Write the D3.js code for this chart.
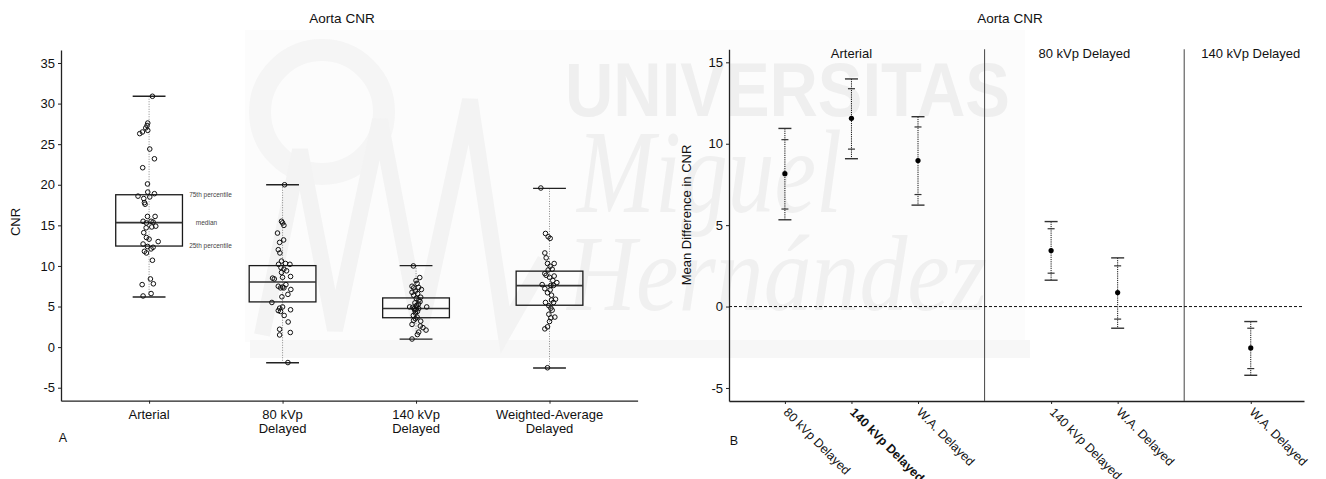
<!DOCTYPE html>
<html>
<head>
<meta charset="utf-8">
<script src="https://cdn.jsdelivr.net/npm/d3@7"></script>
<style>
  body { margin: 0; background: #fff; }
  svg text { font-family: "Liberation Sans", Arial, sans-serif; fill: #111; }
</style>
</head>
<body>
<svg id="chart" width="1326" height="479"></svg>
<script>
/* Aorta CNR: boxplot (A) + mean differences (B) */

// --- panel A data: CNR per phase, [value, jitter]
var phases = ["Arterial", "80 kVp|Delayed", "140 kVp|Delayed", "Weighted-Average|Delayed"];

var arterialCNR = [30.9, 27.6, 27.3, 27.0, 26.7, 26.5, 26.3, 24.4, 23.2, 22.1, 20.1, 19.1, 18.9, 18.6, 18.5, 18.3,
    17.8, 17.6, 16.1, 16.1, 15.5, 15.3, 15.5, 15.4, 14.9, 14.8, 14.7, 14.1, 13.5, 13.3, 13.0, 12.7, 12.4, 12.3,
    12.1, 11.8, 11.6, 10.7, 8.4, 7.7, 7.8, 6.6, 6.3];
var arterialJit = [0.025, -0.01, -0.015, -0.025, -0.01, -0.05, -0.07, 0.005, 0.04, -0.048, -0.012, -0.01, 0.04, -0.083,
    0.005, -0.04, -0.035, -0.03, -0.012, 0.045, -0.045, -0.02, 0.015, 0.03, 0.05, 0.02, -0.022, -0.04, -0.02, 0,
    0.068, -0.045, -0.012, 0.03, 0.015, -0.035, -0.02, 0.025, 0.01, -0.052, 0.032, 0.015, -0.045];

var kv80CNR = [20.0, 15.5, 15.3, 15.0, 14.05, 13.2, 12.9, 12.0, 11.6, 10.6, 10.2, 10.3, 10.2, 9.8, 9.6, 9.4, 9.2,
    8.7, 8.6, 8.5, 8.4, 7.7, 7.5, 7.4, 7.3, 7.3, 7.1, 6.5, 6.2, 5.5, 4.8, 4.95, 4.6, 4.5, 4.4, 3.9, 3.1, 2.2, 1.8,
    1.5, -1.9];
var kv80Jit = [0.015, -0.008, 0, 0.01, -0.038, 0.008, -0.022, -0.032, -0.02, -0.008, -0.03, 0.022, 0.055, -0.012,
    0.01, 0.03, -0.008, 0.06, 0, -0.075, -0.062, 0.025, -0.032, 0, -0.015, 0.01, 0.062, 0.04, -0.005, -0.08,
    -0.022, 0, 0.06, -0.032, -0.015, 0.012, 0.042, -0.022, 0.058, -0.022, 0.04];

var kv140CNR = [10.0, 8.57, 8.2, 7.85, 7.5, 7.3, 7.35, 7.1, 6.9, 6.75, 6.6, 6.4, 6.15, 6.0, 5.8, 5.6, 5.45, 5.3,
    5.15, 4.95, 4.9, 4.95, 4.95, 4.75, 4.75, 4.65, 4.55, 4.4, 4.2, 3.9, 3.7, 3.5, 3.3, 3.2, 2.8, 2.6, 2.4, 2.1,
    1.85, 1.55, 1.0];
var kv140Jit = [-0.02, 0.028, 0, 0.008, -0.03, -0.018, 0.02, 0.04, -0.005, -0.03, 0.012, -0.018, 0.035, 0.002,
    0.022, 0.03, -0.008, 0.018, 0.005, -0.048, -0.025, 0.005, 0.08, 0.02, -0.012, 0, -0.01, 0.01, -0.005, -0.02,
    0.008, -0.005, -0.018, 0.035, -0.03, 0.032, 0.052, 0.075, 0.02, 0.01, -0.03];

var waCNR = [19.6, 14.0, 13.6, 13.4, 11.6, 11.0, 10.3, 10.3, 9.96, 9.6, 9.5, 9.06, 8.85, 8.6, 8.76, 8.2, 7.95,
    7.7, 7.6, 7.6, 7.2, 7.05, 6.7, 6.4, 5.9, 5.8, 5.5, 5.5, 5.1, 4.8, 4.55, 4.05, 3.7, 3.6, 3.15, 2.5, 2.25, -2.54];
var waJit = [-0.065, -0.03, -0.01, 0.005, -0.035, -0.025, -0.015, 0.035, 0.005, 0.02, -0.01, -0.035, -0.025, 0,
    0.035, 0.025, 0.055, -0.055, 0.01, 0.03, -0.035, 0.005, -0.015, 0.015, 0.045, 0.015, -0.03, 0.03, -0.005,
    0.01, 0.02, -0.005, 0.04, 0.01, 0, -0.015, -0.035, -0.015];

// box statistics as drawn
var whiskLo = [6.18, -1.93, 0.98, -2.58];
var boxQ1 = [12.45, 5.57, 3.62, 5.16];
var boxMed = [15.33, 8.03, 4.75, 7.58];
var boxQ3 = [18.77, 10.04, 6.06, 9.36];
var whiskHi = [30.9, 20.0, 10.04, 19.55];

var yTicksA = [-5, 0, 5, 10, 15, 20, 25, 30, 35];

// --- panel B data: mean difference in CNR with two intervals
var refGroups = ["Arterial", "80 kVp Delayed", "140 kVp Delayed"];
var compGroup = [0, 0, 0, 1, 1, 2];
var compLabels = ["80 kVp Delayed", "140 kVp Delayed", "W.A. Delayed", "140 kVp Delayed", "W.A. Delayed", "W.A. Delayed"];
var meanDiff = [8.16, 11.56, 8.97, 3.44, 0.86, -2.54];
var innerLo = [5.99, 9.67, 6.88, 2.05, -0.77, -3.81];
var innerHi = [10.25, 13.38, 11.03, 4.78, 2.50, -1.33];
var outerLo = [5.33, 9.08, 6.23, 1.62, -1.33, -4.22];
var outerHi = [10.94, 13.98, 11.66, 5.22, 2.99, -0.92];
var yTicksB = [-5, 0, 5, 10, 15];

var svg = d3.select("#chart");

// ---------- watermark (faint, behind everything)
var wm = svg.append("g").attr("class", "wm");
wm.append("rect").attr("x", 245).attr("y", 30).attr("width", 780).attr("height", 312).style("fill", "#fcfcfc");
wm.append("rect").attr("x", 250).attr("y", 340).attr("width", 780).attr("height", 18).style("fill", "#f7f7f7");
wm.append("circle").attr("cx", 322).attr("cy", 112).attr("r", 62)
    .style("fill", "none").style("stroke", "#f5f5f5").style("stroke-width", 22);
wm.append("path").attr("d", "M262,335 L300,150 L335,330 L380,120 L420,330 L470,100 L505,330 L545,260")
    .style("fill", "none").style("stroke", "#f3f3f3").style("stroke-width", 16);
wm.append("text").attr("x", 565).attr("y", 116).text("UNIVERSITAS")
    .attr("textLength", 445).attr("lengthAdjust", "spacingAndGlyphs")
    .style("font-family", "'Liberation Sans Narrow', 'Liberation Sans', sans-serif")
    .style("font-weight", "bold").style("font-size", "76px").style("fill", "#efefef");
wm.append("text").attr("x", 577).attr("y", 212).text("Miguel")
    .attr("textLength", 265).attr("lengthAdjust", "spacingAndGlyphs")
    .style("font-family", "'Liberation Serif', serif").style("font-style", "italic")
    .style("font-size", "118px").style("fill", "#f0f0f0");
wm.append("text").attr("x", 567).attr("y", 310).text("Hernández")
    .attr("textLength", 420).attr("lengthAdjust", "spacingAndGlyphs")
    .style("font-family", "'Liberation Serif', serif").style("font-style", "italic")
    .style("font-size", "108px").style("fill", "#f0f0f0");

// ---------- panel A
var xA = d3.scaleLinear().domain([0.34, 4.66]).range([61, 637.6]);
var yA = d3.scaleLinear().domain([-6.6, 36.6]).range([400.7, 50]);

var gA = svg.append("g");

gA.append("g").attr("transform", "translate(61,0)")
    .call(d3.axisLeft(yA).tickValues(yTicksA).tickSize(3).tickSizeOuter(0).tickPadding(3)
        .tickFormat(function(d) { return String(d); }))
    .call(function(g) { g.selectAll("text").style("font-size", "13px"); });

gA.append("g").attr("transform", "translate(0,400.7)")
    .call(d3.axisBottom(xA).tickValues([1, 2, 3, 4]).tickSize(3).tickSizeOuter(0).tickFormat(""));

svg.selectAll(".domain").style("stroke", "#222").style("stroke-width", 1.3);
svg.selectAll(".tick line").style("stroke", "#222");

phases.forEach(function(p, i) {
    var t = gA.append("text").attr("x", xA(i + 1)).attr("y", 419)
        .attr("text-anchor", "middle").style("font-size", "13px");
    p.split("|").forEach(function(line, j) {
        t.append("tspan").attr("x", xA(i + 1)).attr("dy", j ? 14 : 0).text(line);
    });
});

var groupsA = [
    {v: arterialCNR, j: arterialJit},
    {v: kv80CNR, j: kv80Jit},
    {v: kv140CNR, j: kv140Jit},
    {v: waCNR, j: waJit}
];

groupsA.forEach(function(grp, i) {
    var c = i + 1;
    // dotted whisker
    gA.append("line")
        .attr("x1", xA(c)).attr("x2", xA(c))
        .attr("y1", yA(whiskHi[i])).attr("y2", yA(whiskLo[i]))
        .style("stroke", "#888").style("stroke-width", 1).style("stroke-dasharray", "1,1.5");
    // caps
    [whiskLo[i], whiskHi[i]].forEach(function(w) {
        gA.append("line")
            .attr("x1", xA(c - 0.123)).attr("x2", xA(c + 0.123))
            .attr("y1", yA(w)).attr("y2", yA(w))
            .style("stroke", "#222").style("stroke-width", 1.4);
    });
    // box
    gA.append("rect")
        .attr("x", xA(c - 0.25)).attr("width", xA(c + 0.25) - xA(c - 0.25))
        .attr("y", yA(boxQ3[i])).attr("height", yA(boxQ1[i]) - yA(boxQ3[i]))
        .style("fill", "none").style("stroke", "#1a1a1a").style("stroke-width", 1.3);
    gA.append("line")
        .attr("x1", xA(c - 0.25)).attr("x2", xA(c + 0.25))
        .attr("y1", yA(boxMed[i])).attr("y2", yA(boxMed[i]))
        .style("stroke", "#333").style("stroke-width", 1.6);
    // jittered points
    gA.selectAll(".pt" + i)
        .data(grp.v)
        .enter()
        .append("circle")
        .attr("class", "pt" + i)
        .attr("cx", function(d, k) { return xA(c + grp.j[k]); })
        .attr("cy", function(d) { return yA(d); })
        .attr("r", 2.3)
        .style("fill", "none")
        .style("stroke", "#111")
        .style("stroke-width", 1);
});

// percentile notes next to the first box
var notes = [["75th percentile", boxQ3[0]], ["median", boxMed[0]], ["25th percentile", boxQ1[0]]];
notes.forEach(function(n) {
    gA.append("text")
        .attr("x", n[0] == "median" ? xA(1.35) : xA(1.3)).attr("y", yA(n[1]))
        .attr("dy", "0.35em")
        .style("font-size", "6.5px").style("fill", "#444")
        .text(n[0]);
});

gA.append("text").attr("x", 342).attr("y", 18).attr("dy", "0.35em")
    .attr("text-anchor", "middle").style("font-size", "13.5px").text("Aorta CNR");
gA.append("text").attr("transform", "translate(15,222) rotate(-90)").attr("dy", "0.35em")
    .attr("text-anchor", "middle").style("font-size", "13px").text("CNR");
gA.append("text").attr("x", 63).attr("y", 438).attr("dy", "0.35em")
    .attr("text-anchor", "middle").style("font-size", "12.5px").text("A");

// ---------- panel B
// positions: comparisons laid out per reference group with an empty slot between groups
var posB = [], sepB = [], groupMid = [];
var slot = 0;
refGroups.forEach(function(g, gi) {
    var idx = compGroup.map(function(cg, k) { return cg == gi ? k : -1; }).filter(function(k) { return k >= 0; });
    var first = slot + 1;
    idx.forEach(function(k) { slot += 1; posB[k] = slot; });
    groupMid.push((first + slot) / 2);
    slot += 1;
    if (gi < refGroups.length - 1) sepB.push(slot);
});

var xB = d3.scaleLinear().domain([0.16, 8.8]).range([729, 1304]);
var yB = d3.scaleLinear().domain([-5.8, 15.8]).range([401, 49.3]);

var gB = svg.append("g");

gB.append("g").attr("transform", "translate(729,0)")
    .call(d3.axisLeft(yB).tickValues(yTicksB).tickSize(3).tickSizeOuter(0).tickPadding(3)
        .tickFormat(function(d) { return String(d); }))
    .call(function(g) { g.selectAll("text").style("font-size", "13px"); });

gB.append("g").attr("transform", "translate(0,401)")
    .call(d3.axisBottom(xB).tickValues(posB).tickSize(3).tickSizeOuter(0).tickFormat(""));

svg.selectAll(".domain").style("stroke", "#222").style("stroke-width", 1.3);
svg.selectAll(".tick line").style("stroke", "#222");

// group separators
sepB.forEach(function(s) {
    gB.append("line")
        .attr("x1", xB(s)).attr("x2", xB(s))
        .attr("y1", yB(15.8)).attr("y2", yB(-5.8))
        .style("stroke", "#555").style("stroke-width", 1.1);
});

// zero line
gB.append("line")
    .attr("x1", xB(0.16)).attr("x2", xB(8.8))
    .attr("y1", yB(0)).attr("y2", yB(0))
    .style("stroke", "#111").style("stroke-width", 1).style("stroke-dasharray", "3,2");

refGroups.forEach(function(g, gi) {
    gB.append("text")
        .attr("x", xB(groupMid[gi])).attr("y", 53).attr("dy", "0.35em")
        .attr("text-anchor", "middle").style("font-size", "13px").text(g);
});

meanDiff.forEach(function(m, k) {
    var cx = xB(posB[k]);
    gB.append("line")
        .attr("x1", cx).attr("x2", cx)
        .attr("y1", yB(outerHi[k])).attr("y2", yB(outerLo[k]))
        .style("stroke", "#111").style("stroke-width", 1).style("stroke-dasharray", "1.2,1");
    [outerLo[k], outerHi[k]].forEach(function(v) {
        gB.append("line")
            .attr("x1", cx - 6.5).attr("x2", cx + 6.5)
            .attr("y1", yB(v)).attr("y2", yB(v))
            .style("stroke", "#333").style("stroke-width", 1.4);
    });
    [innerLo[k], innerHi[k]].forEach(function(v) {
        gB.append("line")
            .attr("x1", cx - 3.5).attr("x2", cx + 3.5)
            .attr("y1", yB(v)).attr("y2", yB(v))
            .style("stroke", "#333").style("stroke-width", 1.2);
    });
    gB.append("circle").attr("cx", cx).attr("cy", yB(m)).attr("r", 2.6).style("fill", "#000");
});

// rotated category labels
compLabels.forEach(function(l, k) {
    gB.append("text")
        .attr("transform", "translate(" + (xB(posB[k]) + 1) + ",410) rotate(45)")
        .attr("dy", "0.35em")
        .style("font-size", "12.5px")
        .style("font-weight", k == 1 ? "bold" : "normal")
        .text(l);
});

gB.append("text").attr("x", 1010).attr("y", 18).attr("dy", "0.35em")
    .attr("text-anchor", "middle").style("font-size", "13.5px").text("Aorta CNR");
gB.append("text").attr("transform", "translate(686,215) rotate(-90)").attr("dy", "0.35em")
    .attr("text-anchor", "middle").style("font-size", "13px").text("Mean Difference in CNR");
gB.append("text").attr("x", 734).attr("y", 441).attr("dy", "0.35em")
    .attr("text-anchor", "middle").style("font-size", "12.5px").text("B");
</script>
</body>
</html>
